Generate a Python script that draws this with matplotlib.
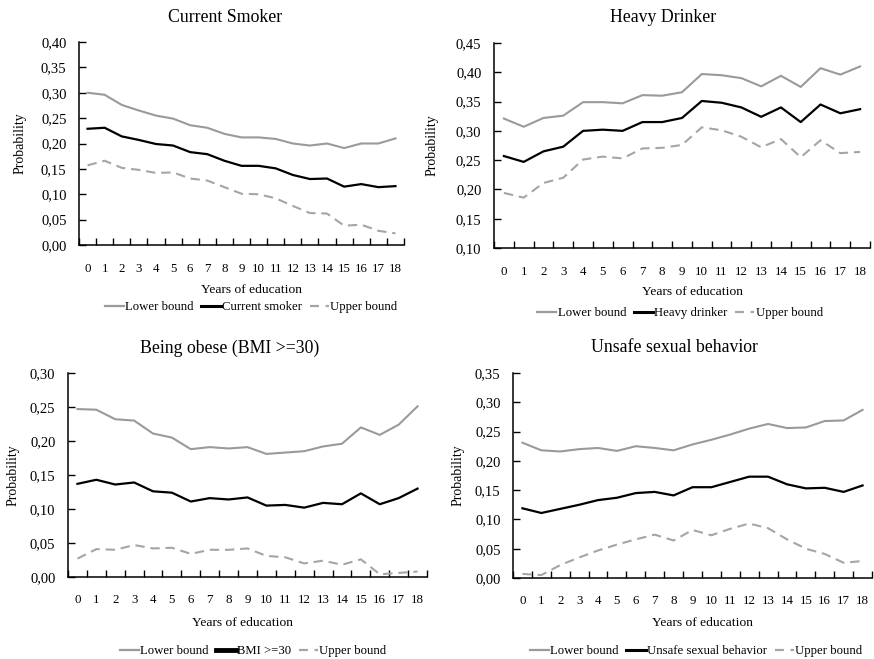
import numpy as np
import matplotlib
matplotlib.use("Agg")
import matplotlib.pyplot as plt
from matplotlib.ticker import FuncFormatter, MultipleLocator
from matplotlib.lines import Line2D

plt.rcParams['font.family'] = ['Liberation Serif', 'DejaVu Serif']

W, H = 874, 659
years = list(range(19))

# Current smoker
smoke_low = [0.300, 0.296, 0.276, 0.265, 0.255, 0.249, 0.236, 0.231, 0.219, 0.212, 0.212, 0.209,
             0.200, 0.196, 0.200, 0.191, 0.200, 0.200, 0.210]
smoke_mid = [0.229, 0.231, 0.214, 0.207, 0.199, 0.196, 0.183, 0.179, 0.166, 0.156, 0.156, 0.151,
             0.138, 0.130, 0.131, 0.115, 0.120, 0.114, 0.116]
smoke_up = [0.157, 0.166, 0.152, 0.148, 0.142, 0.143, 0.131, 0.127, 0.114, 0.101, 0.100, 0.092,
            0.077, 0.063, 0.062, 0.038, 0.040, 0.028, 0.023]

# Heavy drinker
drink_low = [0.321, 0.307, 0.322, 0.326, 0.349, 0.349, 0.347, 0.361, 0.360, 0.366, 0.397, 0.395,
             0.390, 0.376, 0.394, 0.375, 0.407, 0.396, 0.410]
drink_mid = [0.257, 0.247, 0.265, 0.273, 0.300, 0.302, 0.300, 0.315, 0.315, 0.322, 0.351, 0.348,
             0.340, 0.324, 0.340, 0.315, 0.345, 0.330, 0.337]
drink_up = [0.194, 0.186, 0.211, 0.220, 0.251, 0.256, 0.253, 0.270, 0.271, 0.276, 0.306, 0.301,
            0.290, 0.272, 0.286, 0.255, 0.284, 0.262, 0.264]

# Obese
bmi_low = [0.247, 0.246, 0.232, 0.230, 0.211, 0.205, 0.188, 0.191, 0.189, 0.191, 0.181, 0.183,
           0.185, 0.192, 0.196, 0.220, 0.209, 0.224, 0.251]
bmi_mid = [0.137, 0.143, 0.136, 0.139, 0.126, 0.124, 0.111, 0.116, 0.114, 0.117, 0.105, 0.106,
           0.102, 0.109, 0.107, 0.123, 0.107, 0.116, 0.130]
bmi_up = [0.027, 0.041, 0.040, 0.047, 0.042, 0.043, 0.034, 0.040, 0.040, 0.042, 0.031, 0.029,
          0.020, 0.024, 0.018, 0.026, 0.004, 0.006, 0.008]

# Unsafe sexual behavior
sex_low = [0.231, 0.218, 0.216, 0.220, 0.222, 0.217, 0.225, 0.222, 0.218, 0.228, 0.236, 0.245,
           0.255, 0.263, 0.256, 0.257, 0.268, 0.269, 0.287]
sex_mid = [0.119, 0.111, 0.118, 0.125, 0.133, 0.137, 0.145, 0.147, 0.141, 0.155, 0.155, 0.164,
           0.173, 0.173, 0.160, 0.153, 0.154, 0.147, 0.158]
sex_up = [0.007, 0.005, 0.022, 0.035, 0.047, 0.057, 0.066, 0.074, 0.064, 0.082, 0.073, 0.084,
          0.093, 0.085, 0.066, 0.050, 0.041, 0.026, 0.029]

grey = '#9a9a9a'
grey2 = '#a5a5a5'


def px(x, y):
    return x / W, 1 - y / H


def panel(fig, box, title, title_xy, ylab_x, xlab_xy, leg_xy, ymax, low, mid, up, name,
          mid_leg_lw=2.2, xpad=13):
    l, t, r, b = box
    ax = fig.add_axes([l / W, 1 - b / H, (r - l) / W, (b - t) / H])
    ax.plot(years, low, color=grey, lw=1.5)
    ax.plot(years, mid, color='black', lw=1.6)
    ax.plot(years, up, color=grey2, lw=1.5, dashes=(4.5, 2.8))
    ax.set_xlim(-0.5, 18.5)
    ax.set_ylim(ymax[0], ymax[1])
    ax.yaxis.set_major_locator(MultipleLocator(0.05))
    ax.yaxis.set_major_formatter(FuncFormatter(lambda v, p: f"{v:.2f}".replace('.', ',')))
    ax.set_xticks(years)
    ax.set_xticks(np.arange(-0.5, 19, 1), minor=True)
    ax.tick_params(axis='x', which='major', length=0, pad=xpad, labelsize=9.3)
    ax.tick_params(axis='x', which='minor', direction='in', length=5, width=1)
    ax.tick_params(axis='y', direction='in', length=5, width=1, pad=9, labelsize=10.5)
    for s in ('top', 'right'):
        ax.spines[s].set_visible(False)
    for s in ('left', 'bottom'):
        ax.spines[s].set_linewidth(1.1)

    fig.text(*px(*title_xy), title, ha='center', va='center', fontsize=12.8)
    fig.text(*px(ylab_x, (t + b) / 2), 'Probability', rotation=90, ha='center', va='center',
             fontsize=10)
    fig.text(*px(*xlab_xy), 'Years of education', ha='center', va='center', fontsize=9.7)

    handles = [Line2D([], [], color=grey, lw=1.6),
               Line2D([], [], color='black', lw=mid_leg_lw),
               Line2D([], [], color=grey2, lw=1.6, dashes=(4, 3))]
    fig.legend(handles, ['Lower bound', name, 'Upper bound'], loc='center',
               bbox_to_anchor=px(*leg_xy), ncol=3, frameon=False, fontsize=9.2,
               handlelength=1.5, handletextpad=0.1, columnspacing=0.6, borderpad=0,
               borderaxespad=0)
    return ax


fig = plt.figure(figsize=(W / 100, H / 100), dpi=100)

panel(fig, (79, 42, 404, 245), 'Current Smoker', (225, 17), 20, (251, 290), (251, 307),
      (0, 0.40), smoke_low, smoke_mid, smoke_up, 'Current smoker')
panel(fig, (494, 43, 870, 248), 'Heavy Drinker', (663, 17), 432, (692, 292), (680, 313),
      (0.10, 0.45), drink_low, drink_mid, drink_up, 'Heavy drinker')
panel(fig, (68, 373, 427, 577), 'Being obese (BMI >=30)', (230, 348), 13, (243, 623), (253, 651),
      (0, 0.30), bmi_low, bmi_mid, bmi_up, 'BMI >=30', mid_leg_lw=3.5, xpad=12)
panel(fig, (513, 373, 872, 578), 'Unsafe sexual behavior', (674, 348), 458, (702, 623), (696, 651),
      (0, 0.35), sex_low, sex_mid, sex_up, 'Unsafe sexual behavior', xpad=12)

fig.savefig('out.png', dpi=100)
